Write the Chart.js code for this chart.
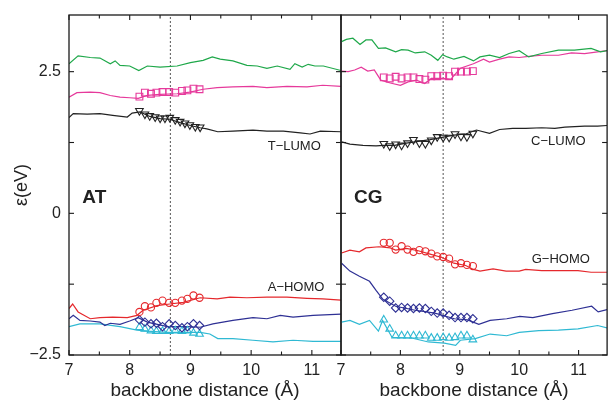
<!DOCTYPE html>
<html>
<head>
<meta charset="utf-8">
<script src="https://cdn.jsdelivr.net/npm/chart.js@4/dist/chart.umd.min.js"></script>
<style>
  html,body{margin:0;padding:0;background:#fff;}
  #wrap{position:relative;width:613px;height:400px;}
  canvas{position:absolute;left:0;top:0;}
</style>
</head>
<body>
<div id="wrap">
  <canvas id="cAT" width="613" height="400"></canvas>
  <canvas id="cCG" width="613" height="400"></canvas>
</div>
<script>
// ---------- AT panel data ----------
const atGreenX = [7.0,7.15,7.35,7.51,7.68,7.76,7.84,8.0,8.15,8.29,8.5,8.78,9.0,9.21,9.36,9.49,9.7,9.93,10.1,10.26,10.43,10.64,10.72,10.84,10.94,11.05,11.19,11.48];
const atGreenY = [2.64,2.78,2.75,2.74,2.64,2.69,2.61,2.60,2.52,2.60,2.58,2.60,2.66,2.70,2.76,2.72,2.69,2.61,2.60,2.56,2.60,2.54,2.64,2.58,2.63,2.60,2.60,2.52];
const atMagX = [7.0,7.13,7.35,7.51,7.68,7.84,8.0,8.14,8.29,8.5,8.78,8.99,9.21,9.44,9.7,10.03,10.26,10.59,10.92,11.18,11.48];
const atMagY = [2.05,2.13,2.14,2.13,2.08,2.05,2.04,2.03,2.08,2.10,2.11,2.14,2.19,2.22,2.23,2.24,2.22,2.24,2.23,2.26,2.24];
const atBlackX = [7.0,7.07,7.3,7.51,7.72,7.96,8.04,8.17,8.33,8.5,8.66,8.83,9.0,9.16,9.27,9.45,9.7,10.03,10.26,10.53,10.81,10.97,11.14,11.48];
const atBlackY = [1.69,1.76,1.75,1.76,1.73,1.70,1.77,1.79,1.71,1.67,1.66,1.60,1.55,1.51,1.49,1.44,1.45,1.47,1.45,1.45,1.42,1.40,1.45,1.44];
const atRedX = [7.0,7.06,7.15,7.35,7.51,7.72,7.96,8.12,8.22,8.45,8.66,8.88,9.16,9.44,9.65,9.93,10.26,10.59,10.92,11.18,11.48];
const atRedY = [-1.68,-1.60,-1.74,-1.86,-1.84,-1.83,-1.84,-1.80,-1.71,-1.63,-1.60,-1.57,-1.49,-1.51,-1.48,-1.49,-1.48,-1.48,-1.50,-1.51,-1.53];
const atNavyX = [7.0,7.07,7.18,7.35,7.51,7.59,7.68,7.84,8.0,8.14,8.29,8.62,8.95,9.16,9.37,9.7,10.03,10.26,10.48,10.69,11.02,11.48];
const atNavyY = [-1.86,-1.80,-1.89,-1.90,-1.92,-1.98,-1.94,-1.96,-1.90,-1.84,-1.92,-2.00,-2.00,-2.01,-1.95,-1.89,-1.84,-1.86,-1.80,-1.83,-1.80,-1.78];
const atCyanX = [7.0,7.18,7.51,7.84,8.12,8.29,8.62,8.95,9.16,9.32,9.45,9.7,10.03,10.36,10.69,11.02,11.48];
const atCyanY = [-2.00,-1.95,-1.95,-2.00,-2.06,-2.08,-2.10,-2.10,-2.10,-2.13,-2.21,-2.21,-2.24,-2.27,-2.24,-2.26,-2.26];
// AT markers
const atMarkX = [8.16,8.25,8.35,8.44,8.54,8.65,8.75,8.86,8.95,9.05,9.15];
const atSquareY = [2.06,2.13,2.11,2.13,2.14,2.14,2.13,2.16,2.17,2.20,2.19];
const atCircleY = [-1.74,-1.64,-1.66,-1.58,-1.54,-1.58,-1.58,-1.54,-1.51,-1.45,-1.49];
const atDiamondY = [-1.88,-1.92,-1.95,-1.94,-2.00,-1.95,-1.98,-2.02,-2.00,-1.95,-1.98];
const atUpTriY = [-2.01,-2.04,-2.07,-2.08,-2.08,-2.08,-2.07,-2.08,-2.07,-2.11,-2.13];
const atDownTriX = [8.16,8.25,8.33,8.42,8.50,8.58,8.66,8.75,8.83,8.91,8.99,9.08,9.16];
const atDownTriY = [1.81,1.75,1.72,1.70,1.68,1.68,1.69,1.65,1.62,1.59,1.56,1.53,1.52];

// ---------- CG panel data ----------
const cgGreenX = [7.01,7.09,7.20,7.32,7.42,7.52,7.63,7.75,7.92,8.02,8.13,8.25,8.41,8.52,8.63,8.71,8.79,8.90,9.07,9.23,9.34,9.50,9.67,9.83,10.0,10.16,10.38,10.66,10.93,11.21,11.37,11.48];
const cgGreenY = [3.03,3.07,3.09,2.98,3.06,3.06,2.91,2.92,2.85,2.89,2.88,2.83,2.85,2.79,2.70,2.80,2.76,2.72,2.77,2.69,2.76,2.79,2.75,2.82,2.87,2.76,2.82,2.88,2.88,2.91,2.85,2.87];
const cgMagX = [7.01,7.12,7.23,7.34,7.45,7.56,7.67,7.83,8.0,8.13,8.27,8.41,8.52,8.71,8.85,9.01,9.23,9.40,9.50,9.67,9.83,10.0,10.16,10.38,10.66,10.88,11.10,11.48];
const cgMagY = [2.51,2.50,2.53,2.58,2.51,2.53,2.35,2.30,2.26,2.32,2.35,2.29,2.38,2.38,2.37,2.56,2.64,2.72,2.67,2.72,2.76,2.75,2.77,2.79,2.79,2.83,2.82,2.87];
const cgBlackX = [7.01,7.15,7.37,7.59,7.72,7.9,8.1,8.3,8.5,8.7,8.9,9.1,9.28,9.50,9.67,9.89,10.11,10.38,10.60,10.77,11.10,11.32,11.48];
const cgBlackY = [1.26,1.22,1.20,1.19,1.20,1.20,1.24,1.27,1.30,1.34,1.38,1.40,1.47,1.41,1.48,1.50,1.50,1.51,1.50,1.52,1.54,1.54,1.55];
const cgRedX = [7.01,7.15,7.31,7.42,7.64,7.83,7.92,8.1,8.3,8.5,8.7,8.9,9.1,9.23,9.34,9.56,9.78,10.0,10.11,10.38,10.66,10.99,11.21,11.48];
const cgRedY = [-0.70,-0.65,-0.68,-0.61,-0.59,-0.61,-0.65,-0.62,-0.66,-0.72,-0.78,-0.88,-0.92,-0.99,-1.02,-0.98,-1.02,-1.02,-0.99,-1.01,-1.01,-1.01,-1.04,-1.04];
const cgNavyX = [7.01,7.15,7.31,7.48,7.59,7.70,7.92,8.25,8.58,8.91,9.13,9.32,9.51,9.79,10.01,10.23,10.56,10.89,11.22,11.33,11.48];
const cgNavyY = [-0.88,-1.02,-1.11,-1.20,-1.36,-1.51,-1.64,-1.71,-1.76,-1.86,-1.88,-1.96,-1.89,-1.86,-1.82,-1.84,-1.77,-1.71,-1.64,-1.74,-1.70];
const cgCyanX = [7.01,7.15,7.31,7.48,7.63,7.70,7.86,8.19,8.47,8.74,8.93,9.01,9.26,9.51,9.79,10.0,10.33,10.66,10.99,11.32,11.48];
const cgCyanY = [-1.92,-1.89,-1.96,-1.89,-2.08,-1.89,-2.19,-2.20,-2.27,-2.29,-2.33,-2.24,-2.21,-2.13,-2.16,-2.10,-2.07,-2.06,-2.04,-1.98,-2.02];
// CG markers
const cgMarkX = [7.72,7.82,7.92,8.02,8.12,8.22,8.32,8.42,8.52,8.62,8.72,8.82,8.92,9.02,9.12,9.22];
const cgSquareY = [2.40,2.38,2.41,2.38,2.40,2.40,2.37,2.36,2.42,2.42,2.43,2.42,2.50,2.50,2.50,2.51];
const cgDownTriY = [1.23,1.19,1.22,1.20,1.24,1.30,1.24,1.23,1.29,1.35,1.34,1.34,1.40,1.36,1.35,1.41];
const cgCircleY = [-0.52,-0.52,-0.64,-0.58,-0.64,-0.68,-0.65,-0.67,-0.71,-0.76,-0.77,-0.80,-0.90,-0.88,-0.91,-0.93];
const cgDiamondY = [-1.48,-1.55,-1.67,-1.66,-1.67,-1.68,-1.67,-1.68,-1.73,-1.76,-1.76,-1.80,-1.84,-1.84,-1.84,-1.86];
const cgUpTriY = [-1.88,-2.04,-2.16,-2.16,-2.16,-2.16,-2.16,-2.16,-2.20,-2.20,-2.19,-2.20,-2.19,-2.16,-2.16,-2.23];

// ---------- axes / labels ----------
const xMin = 7, xMax = 11.48, xStep = 0.5;
const yMin = -2.5, yMax = 3.5, yStep = 1.25;
const yLabelValues = [-2.5, 0, 2.5];
const atRefX = 8.67, cgRefX = 8.72;
const xTitle = 'backbone distance (Å)';
const yTitle = 'ε(eV)';

const C = {green:'#1fa84a', mag:'#e6399b', black:'#222222', red:'#e5282c', navy:'#2e3094', cyan:'#2fb9d3'};

function zip(xs, ys){ return xs.map((x,i)=>({x:x, y:ys[i]})); }
function lineDs(xs, ys, color){
  return {type:'line', data:zip(xs,ys), borderColor:color, borderWidth:1.2, pointRadius:0, fill:false, tension:0, order:2};
}
function markDs(xs, ys, color, style, r, rot){
  return {type:'line', data:zip(xs,ys), showLine:false, borderColor:color, backgroundColor:'rgba(0,0,0,0)',
    pointStyle:style, pointRadius:r, pointBorderWidth:1.1, pointRotation:rot||0, order:1};
}
function vlineDs(xv){
  return {type:'line', data:[{x:xv,y:yMin},{x:xv,y:yMax}], borderColor:'#666', borderWidth:1.1,
    borderDash:[2,2], pointRadius:0, order:3};
}

const frameTicks = {
  id:'frameTicks',
  afterDatasetsDraw(chart, args, opts){
    const {ctx, chartArea:a} = chart;
    const x = chart.scales.x, y = chart.scales.y;
    ctx.save();
    ctx.strokeStyle = '#1a1a1a';
    ctx.lineWidth = 1.3;
    ctx.strokeRect(a.left, a.top, a.right-a.left, a.bottom-a.top);
    ctx.lineWidth = 1.1;
    const seg = (x1,y1,x2,y2)=>{ctx.beginPath();ctx.moveTo(x1,y1);ctx.lineTo(x2,y2);ctx.stroke();};
    x.ticks.forEach(t=>{
      const px = x.getPixelForValue(t.value);
      const len = Number.isInteger(t.value) ? 5 : 3.5;
      seg(px, a.top, px, a.top+len);
      seg(px, a.bottom, px, a.bottom-len);
    });
    y.ticks.forEach(t=>{
      const py = y.getPixelForValue(t.value);
      seg(a.left, py, a.left+5, py);
      seg(a.right, py, a.right-5, py);
    });
    // annotations
    (opts.texts||[]).forEach(tx=>{
      ctx.font = tx.font;
      ctx.fillStyle = '#222';
      ctx.textAlign = tx.align || 'center';
      ctx.textBaseline = 'middle';
      ctx.fillText(tx.text, x.getPixelForValue(tx.x), y.getPixelForValue(tx.y));
    });
    ctx.restore();
  }
};

function makeOptions(isLeft, texts){
  return {
    responsive:false, animation:false, devicePixelRatio:1,
    layout:{padding:{top:15, right: isLeft ? 272 : 1, left:0, bottom:0}},
    plugins:{legend:{display:false}, tooltip:{enabled:false}, frameTicks:{texts:texts}},
    scales:{
      x:{type:'linear', min:xMin, max:xMax,
        ticks:{stepSize:xStep, includeBounds:false, autoSkip:false, maxRotation:0, minRotation:0,
          padding:6, color:'#222', font:{family:'"Liberation Sans", Arial, sans-serif', size:16},
          callback:(v)=> Number.isInteger(v) ? String(v) : ''},
        grid:{display:false, drawTicks:false}, border:{display:false},
        title:{display:true, text:xTitle, color:'#222', padding:0,
          font:{family:'"Liberation Sans", Arial, sans-serif', size:19, lineHeight:0.95}},
        afterFit:(s)=>{ s.height = 45; s.paddingLeft = 0; s.paddingRight = 0; s.paddingTop = 0; s.paddingBottom = 0; }
      },
      y:{type:'linear', min:yMin, max:yMax,
        ticks:{stepSize:yStep, includeBounds:false, display:isLeft, padding:8, color:'#222',
          font:{family:'"Liberation Sans", Arial, sans-serif', size:16},
          callback:(v)=> yLabelValues.includes(v) ? String(v).replace('-', '\u2212') : ''},
        grid:{display:false, drawTicks:false}, border:{display:false},
        title:{display:isLeft, text:yTitle, color:'#222', padding:{top:11, bottom:0},
          font:{family:'"Liberation Sans", Arial, sans-serif', size:18, lineHeight:1.2}},
        afterFit:(s)=>{ s.width = isLeft ? 69 : 341; s.paddingTop = 0; s.paddingBottom = 0; s.paddingLeft = 0; s.paddingRight = 0; }
      }
    }
  };
}

const labFont = '13px "Liberation Sans", Arial, sans-serif';
const boldFont = 'bold 19px "Liberation Sans", Arial, sans-serif';

new Chart(document.getElementById('cAT'), {
  type:'line',
  data:{datasets:[
    vlineDs(atRefX),
    lineDs(atGreenX, atGreenY, C.green),
    lineDs(atMagX, atMagY, C.mag),
    lineDs(atBlackX, atBlackY, C.black),
    lineDs(atRedX, atRedY, C.red),
    lineDs(atNavyX, atNavyY, C.navy),
    lineDs(atCyanX, atCyanY, C.cyan),
    markDs(atMarkX, atSquareY, C.mag, 'rect', 4.8),
    markDs(atDownTriX, atDownTriY, C.black, 'triangle', 4.4, 180),
    markDs(atMarkX, atCircleY, C.red, 'circle', 3.6),
    markDs(atMarkX, atDiamondY, C.navy, 'rectRot', 4.2),
    markDs(atMarkX, atUpTriY, C.cyan, 'triangle', 4.4, 0)
  ]},
  options: makeOptions(true, [
    {text:'T\u2212LUMO', x:10.71, y:1.18, font:labFont},
    {text:'A\u2212HOMO', x:10.74, y:-1.31, font:labFont},
    {text:'AT', x:7.22, y:0.27, font:boldFont, align:'left'}
  ]),
  plugins:[frameTicks]
});

new Chart(document.getElementById('cCG'), {
  type:'line',
  data:{datasets:[
    vlineDs(cgRefX),
    lineDs(cgGreenX, cgGreenY, C.green),
    lineDs(cgMagX, cgMagY, C.mag),
    lineDs(cgBlackX, cgBlackY, C.black),
    lineDs(cgRedX, cgRedY, C.red),
    lineDs(cgNavyX, cgNavyY, C.navy),
    lineDs(cgCyanX, cgCyanY, C.cyan),
    markDs(cgMarkX, cgSquareY, C.mag, 'rect', 4.8),
    markDs(cgMarkX, cgDownTriY, C.black, 'triangle', 4.4, 180),
    markDs(cgMarkX, cgCircleY, C.red, 'circle', 3.6),
    markDs(cgMarkX, cgDiamondY, C.navy, 'rectRot', 4.2),
    markDs(cgMarkX, cgUpTriY, C.cyan, 'triangle', 4.4, 0)
  ]},
  options: makeOptions(false, [
    {text:'C\u2212LUMO', x:10.66, y:1.27, font:labFont},
    {text:'G\u2212HOMO', x:10.70, y:-0.81, font:labFont},
    {text:'CG', x:7.22, y:0.27, font:boldFont, align:'left'}
  ]),
  plugins:[frameTicks]
});
</script>
</body>
</html>
